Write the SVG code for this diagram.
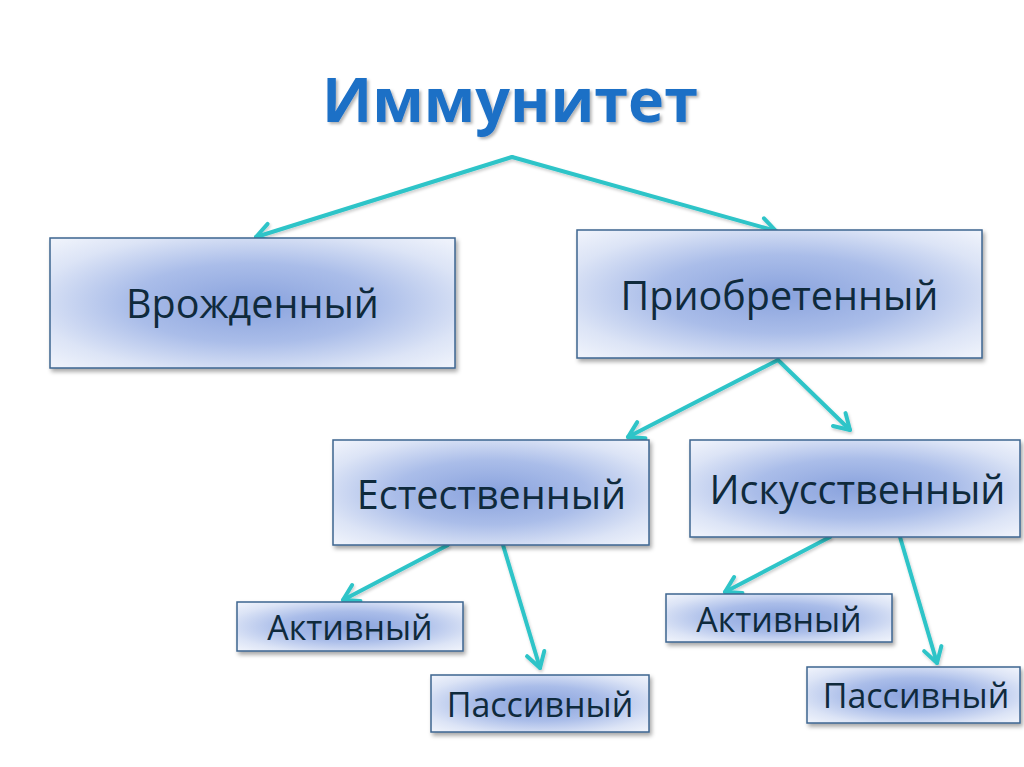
<svg xmlns="http://www.w3.org/2000/svg" width="1024" height="767" viewBox="0 0 1024 767">
  <defs>
    <radialGradient id="boxGrad" cx="0.5" cy="0.5" r="0.68">
      <stop offset="0" stop-color="#89a2dd"/>
      <stop offset="0.45" stop-color="#aabde9"/>
      <stop offset="0.8" stop-color="#dce4f6"/>
      <stop offset="1" stop-color="#eef2fb"/>
    </radialGradient>
    <filter id="shadow" x="-10%" y="-10%" width="125%" height="135%">
      <feDropShadow dx="2" dy="3" stdDeviation="2" flood-color="#000" flood-opacity="0.35"/>
    </filter>
    <filter id="tshadow" x="-5%" y="-20%" width="115%" height="150%">
      <feDropShadow dx="2" dy="2" stdDeviation="1.5" flood-color="#000" flood-opacity="0.3"/>
    </filter>
    <filter id="ashadow" x="-20%" y="-20%" width="140%" height="140%">
      <feDropShadow dx="1" dy="2" stdDeviation="1.5" flood-color="#000" flood-opacity="0.2"/>
    </filter>
    <marker id="arrow" markerUnits="userSpaceOnUse" markerWidth="30" markerHeight="30" viewBox="-22 -15 30 30" refX="0" refY="0" orient="auto">
      <path d="M-15,-9 L0,0 L-15,9" fill="none" stroke="#2ec4c8" stroke-width="4" stroke-linecap="round" stroke-linejoin="round"/>
    </marker>
    <style>
      .box { fill: url(#boxGrad); stroke: #3d6590; stroke-width: 1.5; filter: url(#shadow); }
      .lbl { font-family: "Open Sans", "Liberation Sans", sans-serif; fill: #0f2a3c; text-anchor: middle; }
      .big { font-size: 39.5px; }
      .small { font-size: 34px; }
      .title { font-family: "Open Sans", "Liberation Sans", sans-serif; font-weight: bold; font-size: 61px; fill: #1d6fc6; text-anchor: middle; filter: url(#tshadow); }
      .conn { stroke: #2ec4c8; stroke-width: 4; fill: none; stroke-linecap: round; stroke-linejoin: round; marker-end: url(#arrow); }
    </style>
  </defs>
  <rect width="1024" height="767" fill="#ffffff"/>

  <g id="title">
    <text class="title" x="510" y="122">Иммунитет</text>
  </g>

  <g id="connectors" filter="url(#ashadow)">
    <path class="conn" d="M512,157 L256,237"/>
    <path class="conn" d="M512,157 L776,231"/>
    <path class="conn" d="M778,360 L628,437"/>
    <path class="conn" d="M778,360 L850,430"/>
    <path class="conn" d="M448,545 L343,600"/>
    <path class="conn" d="M503,545 L540,668"/>
    <path class="conn" d="M830,537 L725,592"/>
    <path class="conn" d="M900,537 L937,663"/>
  </g>

  <g id="node-vrozhdenny">
    <rect class="box" x="50" y="238" width="405" height="130"/>
    <text class="lbl big" x="252.5" y="318">Врожденный</text>
  </g>
  <g id="node-priobretenny">
    <rect class="box" x="577" y="230" width="405" height="128"/>
    <text class="lbl big" x="779.5" y="310">Приобретенный</text>
  </g>
  <g id="node-estestvenny">
    <rect class="box" x="333" y="440" width="316" height="105"/>
    <text class="lbl big" x="491.5" y="509">Естественный</text>
  </g>
  <g id="node-iskusstvenny">
    <rect class="box" x="690" y="440" width="330" height="97"/>
    <text class="lbl big" x="857.5" y="504">Искусственный</text>
  </g>
  <g id="node-aktivny-1">
    <rect class="box" x="237" y="602" width="226" height="49"/>
    <text class="lbl small" x="350" y="640">Активный</text>
  </g>
  <g id="node-passivny-1">
    <rect class="box" x="431" y="675" width="218" height="57"/>
    <text class="lbl small" x="540" y="717">Пассивный</text>
  </g>
  <g id="node-aktivny-2">
    <rect class="box" x="666" y="594" width="226" height="48"/>
    <text class="lbl small" x="779" y="632">Активный</text>
  </g>
  <g id="node-passivny-2">
    <rect class="box" x="807" y="667" width="213" height="56"/>
    <text class="lbl small" x="916" y="708">Пассивный</text>
  </g>
</svg>
